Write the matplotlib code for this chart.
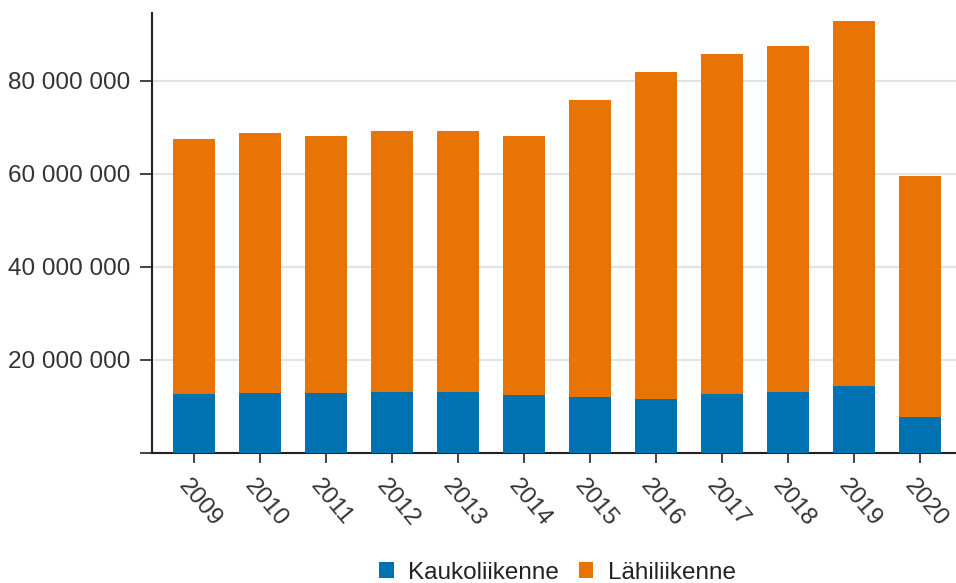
import matplotlib
matplotlib.use('Agg')
import matplotlib.pyplot as plt
import matplotlib.ticker as mticker
import matplotlib.transforms as mtrans
import numpy as np

vuodet = ['2009', '2010', '2011', '2012', '2013', '2014',
          '2015', '2016', '2017', '2018', '2019', '2020']
# matkat yhteensä ja kaukoliikenne (milj.)
yhteensa = [67.5, 68.9, 68.2, 69.2, 69.2, 68.2, 75.9, 82.0, 85.7, 87.5, 92.8, 59.5]
kauko = [12.6, 13.0, 12.8, 13.2, 13.1, 12.5, 12.0, 11.7, 12.6, 13.1, 14.5, 7.8]

kauko = np.array(kauko) * 1e6
lahi = np.array(yhteensa) * 1e6 - kauko

sininen = '#0072b1'
oranssi = '#e97406'

plt.rcParams['font.family'] = ['Liberation Sans', 'DejaVu Sans']
plt.rcParams['font.size'] = 17.5

fig = plt.figure(figsize=(9.56, 5.83), dpi=100)
ax = fig.add_axes([0.159, 0.223, 0.841, 0.7547])

x = np.arange(len(vuodet))
ax.bar(x, kauko, width=0.63, color=sininen, label='Kaukoliikenne', zorder=3)
ax.bar(x, lahi, width=0.63, bottom=kauko, color=oranssi, label='Lähiliikenne', zorder=3)

ax.set_xlim(-0.636, 11.545)
ax.set_ylim(0, 94.6e6)
ax.set_yticks([0, 20e6, 40e6, 60e6, 80e6])
ax.yaxis.set_major_formatter(mticker.FuncFormatter(
    lambda v, p: '' if v == 0 else '{:,.0f}'.format(v).replace(',', ' ')))
ax.grid(axis='y', color='#e3e3e3', linewidth=1.5, zorder=0)

for s in ['top', 'right']:
    ax.spines[s].set_visible(False)
ax.spines['left'].set_color('#222222')
ax.spines['bottom'].set_color('#222222')
ax.spines['left'].set_linewidth(1.5)
ax.spines['bottom'].set_linewidth(1.5)

ax.tick_params(axis='y', length=8.6, width=1.3, color='#333333', pad=7, labelcolor='#333333')
ax.tick_params(axis='x', length=7, width=1.3, color='#333333', pad=14, labelcolor='#333333')

ax.set_xticks(x)
ax.set_xticklabels(vuodet, rotation=-50, ha='left', va='center', rotation_mode='anchor')
siirto = mtrans.ScaledTranslation(-12 / 100, 0, fig.dpi_scale_trans)
for lbl in ax.get_xticklabels():
    lbl.set_transform(lbl.get_transform() + siirto)

ax.legend(loc='center', bbox_to_anchor=(0.583, 0.018), bbox_transform=fig.transFigure,
          ncol=2, frameon=False, handlelength=0.6, handleheight=0.6,
          handletextpad=0.6, columnspacing=0.8, fontsize=17.5, labelcolor='#222222')

plt.savefig('out.png', dpi=100)
